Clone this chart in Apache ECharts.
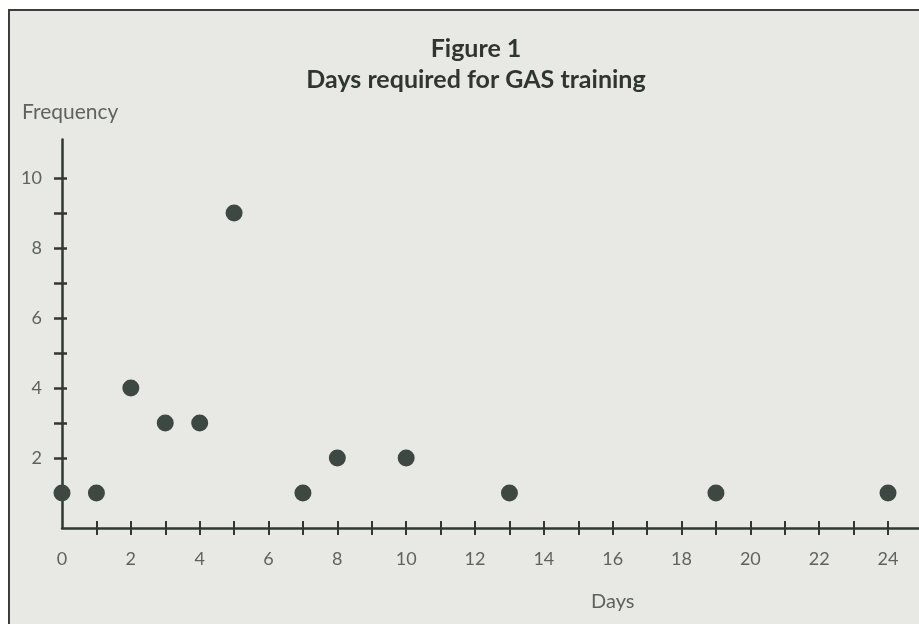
<!DOCTYPE html>
<html><head><meta charset="utf-8">
<script src="https://cdn.jsdelivr.net/npm/echarts@6/dist/echarts.min.js"></script>
<style>html,body{margin:0;padding:0;background:#fff}#c{width:919px;height:624px}</style>
</head><body><div id="c"></div>
<script>
const days = [0, 1, 2, 3, 4, 5, 7, 8, 10, 13, 19, 24];
const frequency = [1, 1, 4, 3, 3, 9, 1, 2, 2, 1, 1, 1];
const xTicks = [1,2,3,4,5,6,7,8,9,10,11,12,13,14,15,16,17,18,19,20,21,22,23,24];
const xLabels = [0,2,4,6,8,10,12,14,16,18,20,22,24];
const yTicks = [1,2,3,4,5,6,7,8,9,10];
const yLabels = [2,4,6,8,10];
const titleLines = ['Figure 1', 'Days required for GAS training'];

const FONT = 'Lato';
const ink = '#2f3833';
const labelColor = '#5e635f';
const chart = echarts.init(document.getElementById('c'), null, {renderer:'canvas'});

function yAx(inside, showLine){
  return {type:'value', min:0, max:11.1, position:'left',
    axisLine:{show:showLine, lineStyle:{color:ink, width:2.5}},
    axisTick:{show:true, inside:inside, length: inside?5:8, customValues:yTicks, lineStyle:{color:ink, width:2.5}},
    axisLabel:{show:!inside, customValues:yLabels, color:labelColor, fontFamily:FONT, fontSize:18, margin:20},
    splitLine:{show:false}};
}
function xAx(inside, showLine){
  return {type:'value', min:0, max:24.9, position:'bottom',
    axisLine:{show:showLine, lineStyle:{color:ink, width:2.5}},
    axisTick:{show:true, inside:inside, length:7, customValues:xTicks, lineStyle:{color:ink, width:2}},
    axisLabel:{show:!inside, customValues:xLabels, color:labelColor, fontFamily:FONT, fontSize:18, margin:22},
    splitLine:{show:false}};
}

chart.setOption({
  backgroundColor:'#ffffff',
  animation:false,
  title:{text:titleLines.join('\n'), left:471, top:28, textAlign:'center',
    textStyle:{fontFamily:FONT, fontWeight:'bold', fontSize:25, lineHeight:31, color:'#2f3531'}},
  graphic:[
    {type:'rect', z:-10, shape:{x:9, y:10, width:1000, height:1000}, style:{fill:'#e8e9e4', stroke:'#3a3f3c', lineWidth:2}},
    {type:'text', left:22, top:102, style:{text:'Frequency', fontFamily:FONT, fontSize:21, fill:labelColor}},
    {type:'text', left:591, top:592, style:{text:'Days', fontFamily:FONT, fontSize:20, fill:labelColor}}
  ],
  grid:{left:62, right:0, top:139.5, bottom:96, containLabel:false},
  xAxis:[xAx(false,true), xAx(true,false)],
  yAxis:[yAx(false,true), yAx(true,false)],
  series:[{type:'scatter', xAxisIndex:0, yAxisIndex:0, symbolSize:17,
    itemStyle:{color:'#3d4843', opacity:1},
    data: days.map((d,i)=>[d, frequency[i]]), z:5}]
});
</script></body></html>
